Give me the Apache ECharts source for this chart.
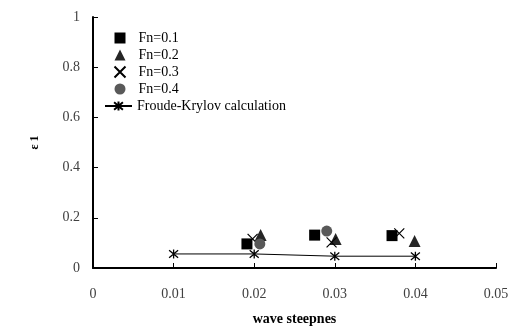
<!DOCTYPE html>
<html><head><meta charset="utf-8">
<script src="https://cdn.jsdelivr.net/npm/echarts@6/dist/echarts.min.js"></script>
<style>html,body{margin:0;padding:0;background:#fff}#c{width:512px;height:327px}</style>
</head><body><div id="c"></div>
<script>
const xTicks = [0, 0.01, 0.02, 0.03, 0.04, 0.05];
const yTicks = [0, 0.2, 0.4, 0.6, 0.8, 1];
const fn01 = [[0.0191, 0.096], [0.0275, 0.131], [0.0371, 0.129]];
const fn02 = [[0.0208, 0.131], [0.0301, 0.116], [0.0399, 0.108]];
const fn03 = [[0.0198, 0.116], [0.0296, 0.102], [0.0380, 0.138]];
const fn04 = [[0.0207, 0.096], [0.0290, 0.147]];
const fkX = [0.01, 0.02, 0.03, 0.04];
const fkY = [0.056, 0.056, 0.047, 0.047];

const serif = 'Liberation Serif';
const crossPath = 'path://M0,0L10,10M10,0L0,10';
const starPath = 'path://M0,0L10,10M10,0L0,10M5,-1L5,11';

const chart = echarts.init(document.getElementById('c'));
chart.setOption({
  animation: false,
  backgroundColor: '#fff',
  grid: { left: 93, right: 16, top: 17, bottom: 59, containLabel: false, outerBoundsMode: 'none' },
  xAxis: {
    type: 'value', min: 0, max: 0.05, interval: 0.01,
    name: 'wave steepnes', nameLocation: 'middle', nameGap: 44,
    nameTextStyle: { fontFamily: serif, fontWeight: 'bold', fontSize: 14, color: '#000' },
    axisLine: { show: true, lineStyle: { color: '#000', width: 2 } },
    axisTick: { show: true, inside: true, length: 5, lineStyle: { color: '#000' } },
    splitLine: { show: false },
    axisLabel: { fontFamily: serif, fontSize: 14, color: '#404040', margin: 19,
      formatter: v => xTicks.includes(+v.toFixed(2)) ? String(+v.toFixed(2)) : '' }
  },
  yAxis: {
    type: 'value', min: 0, max: 1, interval: 0.2,
    name: 'ε 1', nameLocation: 'middle', nameGap: 52, nameRotate: 90,
    nameTextStyle: { fontFamily: serif, fontWeight: 'bold', fontSize: 12, color: '#000' },
    axisLine: { show: true, lineStyle: { color: '#000', width: 2 } },
    axisTick: { show: true, inside: true, length: 5, lineStyle: { color: '#000' } },
    splitLine: { show: false },
    axisLabel: { fontFamily: serif, fontSize: 14, color: '#404040', margin: 13,
      formatter: v => String(+v.toFixed(1)) }
  },
  legend: [{
    orient: 'vertical', left: 112, top: 30, padding: 0, itemWidth: 11, itemHeight: 11, itemGap: 1,
    textStyle: { fontFamily: serif, fontSize: 14, lineHeight: 16, color: '#000', padding: [0, 0, 0, 8] },
    data: ['Fn=0.1', 'Fn=0.2', 'Fn=0.3', 'Fn=0.4']
  }, {
    orient: 'vertical', left: 104, top: 98, padding: 0, itemWidth: 27, itemHeight: 11,
    textStyle: { fontFamily: serif, fontSize: 14, lineHeight: 16, color: '#000' },
    data: ['Froude-Krylov calculation']
  }],
  series: [
    { name: 'Froude-Krylov calculation', type: 'line', data: fkX.map((x, i) => [x, fkY[i]]),
      symbol: starPath, symbolSize: 9, showSymbol: true,
      lineStyle: { color: '#000', width: 1 },
      itemStyle: { color: 'none', borderColor: '#000', borderWidth: 1.3 }, z: 2 },
    { name: 'Fn=0.1', type: 'scatter', data: fn01, symbol: 'rect', symbolSize: 11,
      itemStyle: { color: '#000', opacity: 1 }, z: 3 },
    { name: 'Fn=0.2', type: 'scatter', data: fn02, symbol: 'triangle', symbolSize: 12,
      itemStyle: { color: '#262626', opacity: 1 }, z: 3 },
    { name: 'Fn=0.3', type: 'scatter', data: fn03, symbol: crossPath, symbolSize: 10,
      itemStyle: { color: 'none', borderColor: '#000', borderWidth: 1.2, opacity: 1 }, z: 3 },
    { name: 'Fn=0.4', type: 'scatter', data: fn04, symbol: 'circle', symbolSize: 11,
      itemStyle: { color: '#595959', opacity: 1 }, z: 4 }
  ]
});
</script></body></html>
